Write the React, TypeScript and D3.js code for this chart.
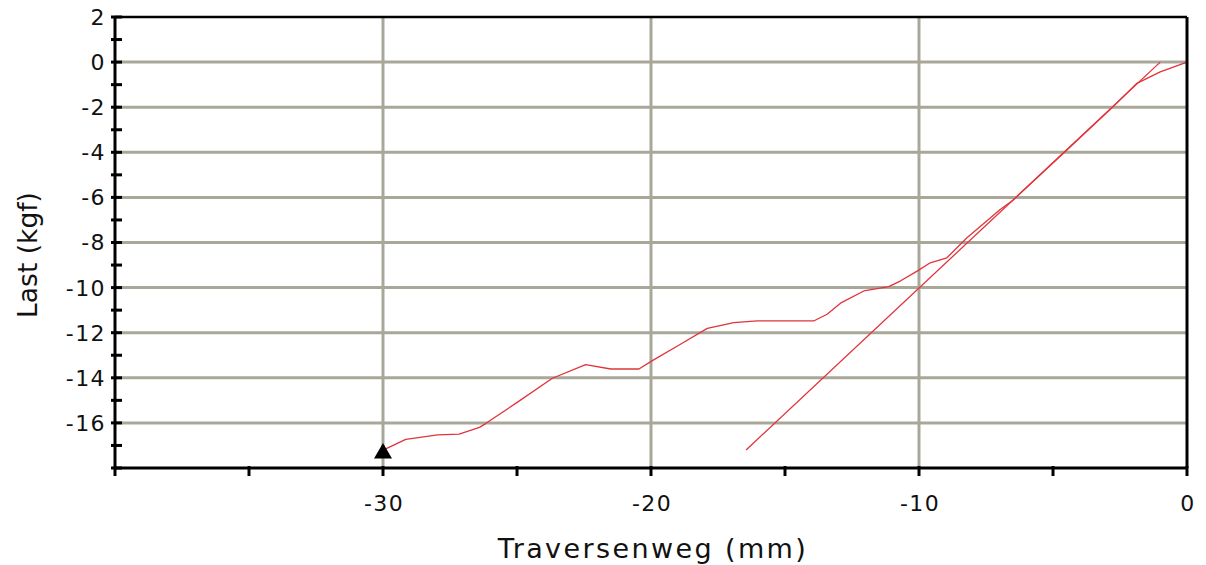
import React from 'react';
import * as d3 from 'd3';

const measuredX = [0, -1.0, -1.87, -2.75, -4.61, -6.47, -6.97, -8.21, -8.96, -9.58, -10.07, -10.7, -11.13, -12.06, -12.93, -13.43, -13.93, -16.04, -16.91, -17.9, -18.9, -19.95, -20.45, -21.5, -22.44, -23.68, -24.98, -26.17, -26.4, -27.16, -27.96, -29.15, -29.9];
const measuredY = [0, -0.43, -0.94, -1.97, -4.04, -6.1, -6.54, -7.79, -8.68, -8.9, -9.27, -9.71, -9.96, -10.15, -10.69, -11.18, -11.48, -11.48, -11.55, -11.81, -12.51, -13.24, -13.61, -13.61, -13.42, -14.02, -15.08, -16.03, -16.2, -16.5, -16.53, -16.73, -17.15];

// straight reference line
const fitX = [-16.45, -1.0];
const fitY = [-17.2, 0];

// break marker
const markerX = [-30];
const markerY = [-17.35];

const xTicks = [-40, -35, -30, -25, -20, -15, -10, -5, 0];
const xLabels = [-30, -20, -10, 0];
const xGrid = [-30, -20, -10];
const yTicks = d3.range(-18, 3, 1);
const yLabels = [2, 0, -2, -4, -6, -8, -10, -12, -14, -16];
const yGrid = [0, -2, -4, -6, -8, -10, -12, -14, -16];

const W = 1206;
const H = 565;
const margin = { top: 17, right: 19, bottom: 97, left: 115 };
const font = '"DejaVu Sans", Verdana, sans-serif';

export default function App() {
  const x = d3.scaleLinear().domain([-40, 0]).range([margin.left, W - margin.right]);
  const y = d3.scaleLinear().domain([-18, 2]).range([H - margin.bottom, margin.top]);

  const line = d3.line<[number, number]>()
    .x(d => x(d[0]))
    .y(d => y(d[1]));

  const measured = measuredX.map((v, i) => [v, measuredY[i]] as [number, number]);
  const fit = fitX.map((v, i) => [v, fitY[i]] as [number, number]);
  const tri = d3.symbol().type(d3.symbolTriangle).size(140)();

  const x0 = x(-40), x1 = x(0), y0 = y(-18), y1 = y(2);
  const gridColor = '#a9a799';

  return (
    <svg width={W} height={H} style={{ position: 'absolute', left: 0, top: 0, background: '#fff' }}>
      {/* grid */}
      {yGrid.map(v => (
        <line key={'gy' + v} x1={x0} x2={x1} y1={y(v)} y2={y(v)} stroke={gridColor} strokeWidth={3} />
      ))}
      {xGrid.map(v => (
        <line key={'gx' + v} x1={x(v)} x2={x(v)} y1={y1} y2={y0} stroke={gridColor} strokeWidth={3} />
      ))}

      {/* curves */}
      <path d={line(fit) || ''} fill="none" stroke="#e0343a" strokeWidth={1.3} />
      <path d={line(measured) || ''} fill="none" stroke="#e0343a" strokeWidth={1.3} strokeLinejoin="round" />
      {markerX.map((v, i) => (
        <path key={'m' + i} d={tri || ''} transform={`translate(${x(v)},${y(markerY[i])})`} fill="#000" />
      ))}

      {/* frame */}
      <line x1={x0} x2={x1} y1={y1} y2={y1} stroke="#000" strokeWidth={2.5} />
      <line x1={x1} x2={x1} y1={y1} y2={y0} stroke="#000" strokeWidth={3} />
      <line x1={x0} x2={x1 + 1} y1={y0} y2={y0} stroke="#000" strokeWidth={3} />
      <line x1={x0} x2={x0} y1={y1} y2={y0 + 1} stroke="#000" strokeWidth={3} />

      {/* x ticks */}
      {xTicks.map(v => (
        <line key={'xt' + v} x1={x(v)} x2={x(v)} y1={y0 - 2} y2={y0 + 8} stroke="#000" strokeWidth={3} />
      ))}
      {xLabels.map(v => (
        <text key={'xl' + v} x={x(v) + 1} y={511} textAnchor="middle" fontFamily={font} fontSize={22}
          letterSpacing={1.4} fill="#111">{v}</text>
      ))}

      {/* y ticks */}
      {yTicks.map(v => (
        <line key={'yt' + v} x1={x0 - 4} x2={x0 + 7} y1={y(v)} y2={y(v)} stroke="#000" strokeWidth={3} />
      ))}
      {yLabels.map(v => (
        <text key={'yl' + v} x={106} y={y(v)} dy="0.36em" textAnchor="end" fontFamily={font} fontSize={22}
          letterSpacing={1.4} fill="#111">{v}</text>
      ))}

      {/* axis titles */}
      <text x={(x0 + x1) / 2 + 2} y={558} textAnchor="middle" fontFamily={font} fontSize={27}
        letterSpacing={2.4} fill="#111">Traversenweg (mm)</text>
      <text transform={`translate(37,${255}) rotate(-90)`} textAnchor="middle" fontFamily={font} fontSize={26.5}
        fill="#111">Last (kgf)</text>
    </svg>
  );
}
